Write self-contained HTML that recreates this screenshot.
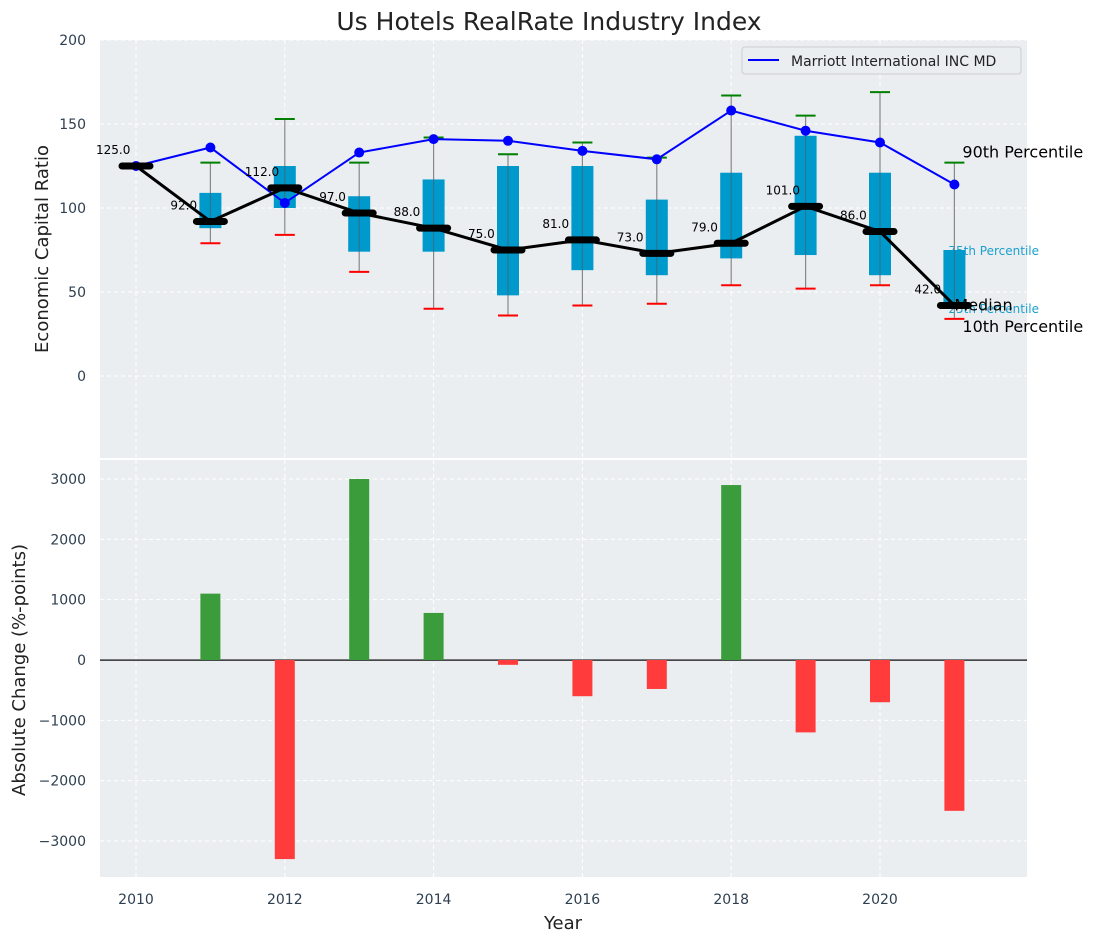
<!DOCTYPE html>
<html><head><meta charset="utf-8"><style>
body{margin:0;background:#fff;}
svg text{font-family:"DejaVu Sans","Liberation Sans",sans-serif;}
</style></head><body>
<svg id="chart" width="1098" height="942" xmlns="http://www.w3.org/2000/svg"></svg>
<script>
const years=[2010,2011,2012,2013,2014,2015,2016,2017,2018,2019,2020,2021];
const medians=[125,92,112,97,88,75,81,73,79,101,86,42];
const company=[125,136,103,133,141,140,134,129,158,146,139,114];
const p25=[125,88,100,74,74,48,63,60,70,72,60,40];
const p75=[125,109,125,107,117,125,125,105,121,143,121,75];
const p90=[125,127,153,127,142,132,139,130,167,155,169,127];
const p10=[125,79,84,62,40,36,42,43,54,52,54,34];
const changes=[0,1100,-3300,3000,780,-80,-600,-480,2900,-1200,-700,-2500];
const yTicksTop=[0,50,100,150,200];
const yTicksBot=[-3000,-2000,-1000,0,1000,2000,3000];
const xTicks=[2010,2012,2014,2016,2018,2020];

const NS="http://www.w3.org/2000/svg";
const svg=document.getElementById('chart');
function el(t,a,p){const e=document.createElementNS(NS,t);for(const k in a)e.setAttribute(k,a[k]);(p||svg).appendChild(e);return e;}
const L=100,R=1027;
const X=v=>136+(v-2010)*74.4;
const YT=v=>376-v*1.68;
const YB=v=>660-v*0.06033;
const T1=40,B1=458,T2=460,B2=877;

let e;
e=el('rect',{x:L,y:T1,width:R-L,height:B1-T1,fill:'#eaeef0'});

e=el('rect',{x:L,y:T2,width:R-L,height:B2-T2,fill:'#eaeef0'});


xTicks.forEach(t=>{
 el('line',{x1:X(t),x2:X(t),y1:T1,y2:B1,stroke:'#fff','stroke-dasharray':'4,3','stroke-width':1});
 el('line',{x1:X(t),x2:X(t),y1:T2,y2:B2,stroke:'#fff','stroke-dasharray':'4,3','stroke-width':1});
 e=el('text',{x:X(t),y:904,'text-anchor':'middle','font-size':14,fill:'#2e3f50'});e.textContent=t;
 
});
yTicksTop.forEach(t=>{
 el('line',{x1:L,x2:R,y1:YT(t),y2:YT(t),stroke:'#fff','stroke-dasharray':'4,3'});
 e=el('text',{x:86,y:YT(t)+5,'text-anchor':'end','font-size':14,fill:'#2e3f50'});e.textContent=t;
 
});
yTicksBot.forEach(t=>{
 el('line',{x1:L,x2:R,y1:YB(t),y2:YB(t),stroke:'#fff','stroke-dasharray':'4,3'});
 e=el('text',{x:86,y:YB(t)+5,'text-anchor':'end','font-size':14,fill:'#2e3f50'});e.textContent=(t<0?'\u2212'+(-t):t);
 
});

const lx=X(2021);
function txt(x,y,s,size,fill,name){const t=el('text',{x:x,y:y,'font-size':size,fill:fill});t.textContent=s;return t;}
txt(lx-6,YT(p75[11])+5,'75th Percentile',12,'#1ca0cc','p75-annotation');
txt(lx-6,YT(p25[11])+4,'25th Percentile',12,'#1ca0cc','p25-annotation');

years.forEach((y,i)=>{
 const x=X(y);
 if(p90[i]!==p10[i]){
  e=el('line',{x1:x,x2:x,y1:YT(p90[i]),y2:YT(p10[i]),stroke:'#888','stroke-width':1.2});
  
  e=el('line',{x1:x-10,x2:x+10,y1:YT(p90[i]),y2:YT(p90[i]),stroke:'green','stroke-width':2});
  
  e=el('line',{x1:x-10,x2:x+10,y1:YT(p10[i]),y2:YT(p10[i]),stroke:'red','stroke-width':2});
  
 }
 if(p75[i]!==p25[i]){
  e=el('rect',{x:x-11,y:YT(p75[i]),width:22,height:YT(p25[i])-YT(p75[i]),fill:'#0099cc'});
  
  el('line',{x1:x,x2:x,y1:YT(p75[i]),y2:YT(p25[i]),stroke:'#555','stroke-width':1,opacity:0.6});
 }
});

e=el('polyline',{points:years.map((y,i)=>X(y)+','+YT(company[i])).join(' '),fill:'none',stroke:'blue','stroke-width':2});

years.forEach((y,i)=>{e=el('circle',{cx:X(y),cy:YT(company[i]),r:5,fill:'blue'});
 });

e=el('polyline',{points:years.map((y,i)=>X(y)+','+YT(medians[i])).join(' '),fill:'none',stroke:'#000','stroke-width':3});

years.forEach((y,i)=>{
 e=el('line',{x1:X(y)-14,x2:X(y)+14,y1:YT(medians[i]),y2:YT(medians[i]),stroke:'#000','stroke-width':7,'stroke-linecap':'round'});
 
 txt(X(y)-40,YT(medians[i])-12,medians[i].toFixed(1),12,'#000','median-value-label');
});

txt(lx+8,YT(p90[11])-5,'90th Percentile',16,'#000','p90-annotation');
txt(lx,YT(medians[11])+5,'Median',16,'#000','median-annotation');
txt(lx+8,YT(p10[11])+13,'10th Percentile',16,'#000','p10-annotation');

const lg=el('g',{});
el('rect',{x:742,y:47,width:279,height:27,rx:3,fill:'#eaeef0',stroke:'#ccc'},lg);
el('line',{x1:748,x2:779,y1:60,y2:60,stroke:'blue','stroke-width':2},lg);
e=el('text',{x:791,y:66,'font-size':14,fill:'#222'},lg);e.textContent='Marriott International INC MD';

e=el('rect',{x:L,y:Math.round(YB(0))-0.5,width:R-L,height:1.2,fill:'#000'});

years.forEach((y,i)=>{
 const v=changes[i];if(v===0)return;
 e=el('rect',{x:X(y)-10,y:Math.min(YB(v),YB(0)),width:20,height:Math.abs(YB(v)-YB(0)),fill:v>0?'#3a9c3a':'#ff3b3b'});
 
});

e=txt(549,30,'Us Hotels RealRate Industry Index',25,'#222','chart-title');e.setAttribute('text-anchor','middle');
e=txt(563,929,'Year',18,'#222','x-axis-title');e.setAttribute('text-anchor','middle');
e=el('text',{x:0,y:0,'font-size':18,fill:'#222','text-anchor':'middle',transform:'translate(48,249) rotate(-90)'});e.textContent='Economic Capital Ratio';

e=el('text',{x:0,y:0,'font-size':18,fill:'#222','text-anchor':'middle',transform:'translate(25,670) rotate(-90)'});e.textContent='Absolute Change (%-points)';

</script>
</body></html>
